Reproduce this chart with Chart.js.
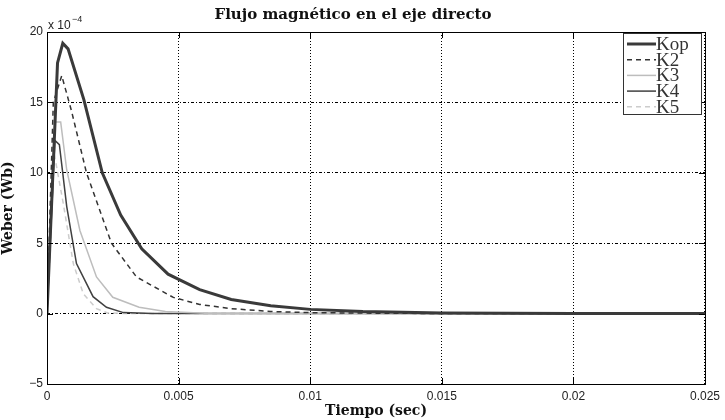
<!DOCTYPE html>
<html>
<head>
<meta charset="utf-8">
<script src="https://cdn.jsdelivr.net/npm/chart.js@4"></script>
<style>
  html, body { margin: 0; padding: 0; background: #fff; }
  #wrap { width: 725px; height: 420px; }
</style>
</head>
<body>
<div id="wrap"><canvas id="flux-chart"></canvas></div>
<script>
// values in units of 1e-4 Wb, time in seconds
const seriesNames = ["Kop", "K2", "K3", "K4", "K5"];

const kopTime = [0, 0.0004, 0.0006, 0.0008, 0.0014, 0.0021, 0.0028, 0.0036, 0.0046, 0.0058, 0.007, 0.0085, 0.01, 0.012, 0.015, 0.02, 0.025];
const kopFlux = [0, 17.8, 19.2, 18.8, 15.2, 10.0, 7.0, 4.6, 2.8, 1.7, 1.0, 0.55, 0.3, 0.15, 0.05, 0.01, 0];

const k2Time = [0, 0.00024, 0.00056, 0.00093, 0.0015, 0.00245, 0.0034, 0.0048, 0.0058, 0.007, 0.0085, 0.01, 0.013, 0.018, 0.025];
const k2Flux = [0, 15.0, 16.9, 14.4, 10.0, 5.0, 2.6, 1.15, 0.65, 0.35, 0.15, 0.07, 0.02, 0, 0];

const k3Time = [0, 0.0003, 0.00052, 0.00075, 0.00125, 0.00188, 0.0025, 0.0035, 0.0045, 0.006, 0.025];
const k3Flux = [0, 13.6, 13.6, 10.2, 5.9, 2.6, 1.16, 0.45, 0.15, 0.03, 0];

const k4Time = [0, 0.0003, 0.00047, 0.00075, 0.00112, 0.00175, 0.00226, 0.0029, 0.004, 0.025];
const k4Flux = [0, 12.3, 12.0, 7.6, 3.55, 1.2, 0.45, 0.07, 0, 0];

const k5Time = [0, 0.00027, 0.00062, 0.001, 0.00138, 0.00188, 0.0023, 0.003, 0.025];
const k5Flux = [0, 11.4, 7.8, 3.55, 1.4, 0.35, 0.05, 0, 0];

const xTicks = [0, 0.005, 0.01, 0.015, 0.02, 0.025];
const yTicks = [-5, 0, 5, 10, 15, 20];

function toPoints(xs, ys) {
  return xs.map(function (x, i) {
    return { x: x, y: ys[i] };
  });
}

const styles = [
  { color: "#3a3a3a", width: 3, dash: [] },
  { color: "#333333", width: 1.5, dash: [5, 4] },
  { color: "#bdbdbd", width: 1.5, dash: [] },
  { color: "#404040", width: 1.5, dash: [] },
  { color: "#cccccc", width: 1.5, dash: [5, 4] }
];

const allTime = [kopTime, k2Time, k3Time, k4Time, k5Time];
const allFlux = [kopFlux, k2Flux, k3Flux, k4Flux, k5Flux];

const datasets = seriesNames.map(function (name, i) {
  return {
    label: name,
    data: toPoints(allTime[i], allFlux[i]),
    borderColor: styles[i].color,
    borderWidth: styles[i].width,
    borderDash: styles[i].dash,
    showLine: true,
    fill: false,
    tension: 0,
    pointRadius: 0
  };
});

// box, inward ticks, exponent label and legend, matlab style
const matlabFrame = {
  id: "matlabFrame",
  afterDraw: function (chart) {
    const ctx = chart.ctx;
    const a = chart.chartArea;
    const xs = chart.scales.x;
    const ys = chart.scales.y;

    ctx.save();
    ctx.strokeStyle = "#000";
    ctx.lineWidth = 1;
    ctx.setLineDash([]);
    ctx.strokeRect(a.left + 0.5, a.top + 0.5, a.right - a.left, a.bottom - a.top);

    ctx.beginPath();
    xTicks.forEach(function (t) {
      const px = Math.round(xs.getPixelForValue(t)) + 0.5;
      ctx.moveTo(px, a.bottom);
      ctx.lineTo(px, a.bottom - 6);
      ctx.moveTo(px, a.top);
      ctx.lineTo(px, a.top + 6);
    });
    yTicks.forEach(function (t) {
      const py = Math.round(ys.getPixelForValue(t)) + 0.5;
      ctx.moveTo(a.left, py);
      ctx.lineTo(a.left + 6, py);
      ctx.moveTo(a.right, py);
      ctx.lineTo(a.right - 6, py);
    });
    ctx.stroke();

    // exponent
    ctx.fillStyle = "#222";
    ctx.textBaseline = "alphabetic";
    ctx.textAlign = "left";
    ctx.font = "12px 'Liberation Sans'";
    ctx.fillText("x 10", a.left + 1, a.top - 3);
    ctx.font = "9px 'Liberation Sans'";
    ctx.fillText("\u22124", a.left + 25, a.top - 10);

    // legend
    const lx = 623, ly = 33, lw = 78, lh = 81;
    ctx.fillStyle = "#fff";
    ctx.fillRect(lx, ly, lw, lh);
    ctx.strokeStyle = "#333";
    ctx.lineWidth = 1;
    ctx.strokeRect(lx + 0.5, ly + 0.5, lw, lh);
    ctx.font = "19px 'Liberation Serif'";
    ctx.textBaseline = "middle";
    seriesNames.forEach(function (name, i) {
      const y = 44 + i * 15.7;
      ctx.beginPath();
      ctx.strokeStyle = styles[i].color;
      ctx.lineWidth = styles[i].width;
      ctx.setLineDash(styles[i].dash);
      ctx.moveTo(627, y);
      ctx.lineTo(656, y);
      ctx.stroke();
      ctx.fillStyle = "#333";
      ctx.fillText(name, 656, y + 1);
    });
    ctx.restore();
  }
};

new Chart(document.getElementById("flux-chart"), {
  type: "scatter",
  data: { datasets: datasets },
  options: {
    responsive: true,
    maintainAspectRatio: false,
    animation: false,
    layout: {
      padding: { top: 0, right: 19, bottom: 0, left: 0 }
    },
    plugins: {
      legend: { display: false },
      tooltip: { enabled: false },
      title: {
        display: true,
        text: "Flujo magnético en el eje directo",
        color: "#111",
        font: { family: "'DejaVu Serif'", size: 15, weight: "bold" },
        padding: { top: 6, bottom: 8 }
      }
    },
    scales: {
      x: {
        type: "linear",
        min: 0,
        max: 0.025,
        afterBuildTicks: function (scale) {
          scale.ticks = xTicks.map(function (v) { return { value: v }; });
        },
        afterFit: function (scale) {
          scale.height = 36;
        },
        grid: {
          color: "#000",
          lineWidth: 1,
          drawTicks: false
        },
        border: { display: false, dash: [1, 2] },
        ticks: {
          color: "#222",
          padding: 5,
          font: { family: "'Liberation Sans'", size: 12 },
          callback: function (v) { return String(v); }
        },
        title: {
          display: true,
          text: "Tiempo (sec)",
          color: "#111",
          font: { family: "'DejaVu Serif'", size: 14, weight: "bold" },
          padding: { top: -5, bottom: 0 }
        }
      },
      y: {
        min: -5,
        max: 20,
        afterBuildTicks: function (scale) {
          scale.ticks = yTicks.map(function (v) { return { value: v }; });
        },
        afterFit: function (scale) {
          scale.width = 47;
        },
        grid: {
          color: "#000",
          lineWidth: 1,
          drawTicks: false
        },
        border: { display: false, dash: [3, 2, 1, 2] },
        ticks: {
          color: "#222",
          padding: 4,
          font: { family: "'Liberation Sans'", size: 12 },
          callback: function (v) { return v < 0 ? "\u2212" + Math.abs(v) : String(v); }
        },
        title: {
          display: true,
          text: "Weber (Wb)",
          color: "#111",
          font: { family: "'DejaVu Serif'", size: 14, weight: "bold" },
          padding: { top: 0, bottom: 0 }
        }
      }
    }
  },
  plugins: [matlabFrame]
});
</script>
</body>
</html>
